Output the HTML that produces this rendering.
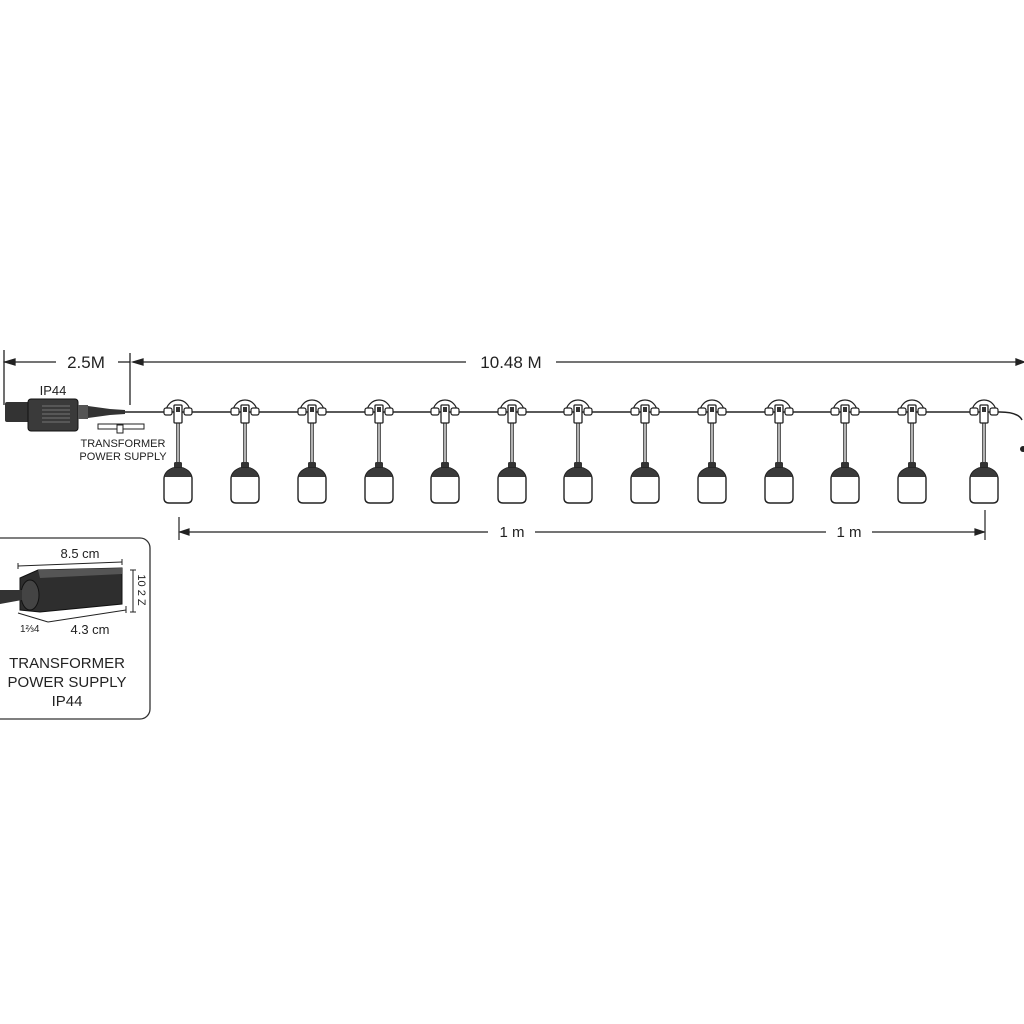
<!DOCTYPE html>
<html><head><style>
html,body{margin:0;padding:0;background:#fff;}
svg{display:block;font-family:"Liberation Sans",sans-serif;}
</style></head><body>
<svg width="1024" height="1024" viewBox="0 0 1024 1024" xmlns="http://www.w3.org/2000/svg">
<defs>
<g id="b">
  <path d="M-12 412 A12 12 0 0 1 12 412" fill="none" stroke="#222" stroke-width="1.2"/>
  <rect x="-14" y="408" width="8" height="7" rx="2" fill="#fff" stroke="#222" stroke-width="1.2"/>
  <rect x="6" y="408" width="8" height="7" rx="2" fill="#fff" stroke="#222" stroke-width="1.2"/>
  <rect x="-4" y="405" width="8" height="18" rx="1" fill="#fff" stroke="#222" stroke-width="1.3"/>
  <rect x="-2" y="407" width="4" height="5" fill="#333"/>
  <line x1="-1.2" y1="423" x2="-1.2" y2="463" stroke="#222" stroke-width="1.1"/>
  <line x1="1.2" y1="423" x2="1.2" y2="463" stroke="#222" stroke-width="1.1"/>
  <rect x="-4" y="462" width="8" height="8" rx="1.5" fill="#333"/>
  <path d="M-5 468 L5 468 Q13 471 14 478 L14 498 Q14 503 9 503 L-9 503 Q-14 503 -14 498 L-14 478 Q-13 471 -5 468 Z" fill="#fff" stroke="#222" stroke-width="1.4"/>
  <path d="M-5 468 L5 468 Q12 471 13.5 477 L-13.5 477 Q-12 471 -5 468 Z" fill="#3a3a3a"/>
</g>
</defs>
<g stroke="#222" stroke-width="1.3" fill="#222">
  <line x1="4" y1="350" x2="4" y2="405"/>
  <line x1="130" y1="353" x2="130" y2="405"/>
  <line x1="4" y1="362" x2="56" y2="362"/>
  <line x1="118" y1="362" x2="130" y2="362"/>
  <line x1="133" y1="362" x2="466" y2="362"/>
  <line x1="556" y1="362" x2="1024" y2="362"/>
  <path d="M5 362 l10 -3 v6z"/>
  <path d="M133 362 l10 -3 v6z"/>
  <path d="M1024 362 l-8 -3 v6z"/>
</g>
<text x="86" y="368" font-size="17" text-anchor="middle" fill="#222">2.5M</text>
<text x="511" y="368" font-size="17" text-anchor="middle" fill="#222">10.48 M</text>
<text x="53" y="395" font-size="13" text-anchor="middle" fill="#222">IP44</text>
<rect x="5" y="402" width="26" height="20" rx="2" fill="#333"/>
<rect x="28" y="399" width="50" height="32" rx="3" fill="#3a3a3a" stroke="#111"/>
<g stroke="#888" stroke-width="0.8"><line x1="42" y1="406" x2="70" y2="406"/><line x1="42" y1="410" x2="70" y2="410"/><line x1="42" y1="414" x2="70" y2="414"/><line x1="42" y1="418" x2="70" y2="418"/><line x1="42" y1="422" x2="70" y2="422"/></g>
<rect x="78" y="405" width="10" height="14" fill="#555"/>
<path d="M88 406 L110 409 L125 410 L125 414 L110 415 L88 418Z" fill="#333"/>
<line x1="125" y1="412" x2="1000" y2="412" stroke="#222" stroke-width="2"/>
<line x1="125" y1="412" x2="1000" y2="412" stroke="#fff" stroke-width="0.6"/>
<path d="M1000 412 Q1018 412 1022 420" fill="none" stroke="#222" stroke-width="1.5"/>
<circle cx="1023" cy="449" r="3" fill="#222"/>
<rect x="98" y="424" width="46" height="5" fill="none" stroke="#222"/>
<rect x="117" y="425" width="6" height="8" fill="#fff" stroke="#222"/>
<text x="123" y="447" font-size="11" text-anchor="middle" fill="#222">TRANSFORMER</text>
<text x="123" y="460" font-size="11" text-anchor="middle" fill="#222">POWER SUPPLY</text>
<use href="#b" x="178"/><use href="#b" x="245"/><use href="#b" x="312"/><use href="#b" x="379"/>
<use href="#b" x="445"/><use href="#b" x="512"/><use href="#b" x="578"/><use href="#b" x="645"/>
<use href="#b" x="712"/><use href="#b" x="779"/><use href="#b" x="845"/><use href="#b" x="912"/>
<use href="#b" x="984"/>
<g stroke="#222" stroke-width="1.2" fill="#222">
  <line x1="179" y1="517" x2="179" y2="540"/>
  <line x1="985" y1="510" x2="985" y2="540"/>
  <line x1="180" y1="532" x2="488" y2="532"/>
  <line x1="535" y1="532" x2="826" y2="532"/>
  <line x1="872" y1="532" x2="984" y2="532"/>
  <path d="M180 532 l9 -3 v6z"/>
  <path d="M984 532 l-9 -3 v6z"/>
</g>
<text x="512" y="537" font-size="15" text-anchor="middle" fill="#222">1 m</text>
<text x="849" y="537" font-size="15" text-anchor="middle" fill="#222">1 m</text>
<rect x="-10" y="538" width="160" height="181" rx="10" fill="#fff" stroke="#333" stroke-width="1.3"/>
<text x="80" y="558" font-size="13" text-anchor="middle" fill="#222">8.5 cm</text>
<g stroke="#222" stroke-width="1">
  <line x1="18" y1="566" x2="122" y2="562"/>
  <line x1="18" y1="563" x2="18" y2="569"/>
  <line x1="122" y1="559" x2="122" y2="565"/>
  <line x1="18" y1="613" x2="48" y2="622"/>
  <line x1="48" y1="622" x2="126" y2="610"/>
  <line x1="126" y1="606" x2="126" y2="613"/>
  <line x1="130" y1="570" x2="136" y2="570"/>
  <line x1="133" y1="570" x2="133" y2="612"/>
  <line x1="130" y1="612" x2="136" y2="612"/>
</g>
<path d="M20 578 L38 570 L122 568 L122 604 L40 612 L20 610Z" fill="#2e2e2e" stroke="#111"/>
<path d="M38 570 L122 568 L122 574 L40 578Z" fill="#555"/>
<ellipse cx="30" cy="595" rx="9" ry="15" fill="#444" stroke="#111"/>
<path d="M0 590 L22 590 L22 600 L0 604Z" fill="#333"/>
<text x="138" y="590" font-size="11" fill="#222" transform="rotate(90 138 590)" text-anchor="middle">10 2 Z</text>
<text x="20" y="632" font-size="10" fill="#222">1⅔4</text>
<text x="90" y="634" font-size="13" text-anchor="middle" fill="#222">4.3 cm</text>
<text x="67" y="668" font-size="15" text-anchor="middle" fill="#222">TRANSFORMER</text>
<text x="67" y="687" font-size="15" text-anchor="middle" fill="#222">POWER SUPPLY</text>
<text x="67" y="706" font-size="15" text-anchor="middle" fill="#222">IP44</text>
</svg>
</body></html>
